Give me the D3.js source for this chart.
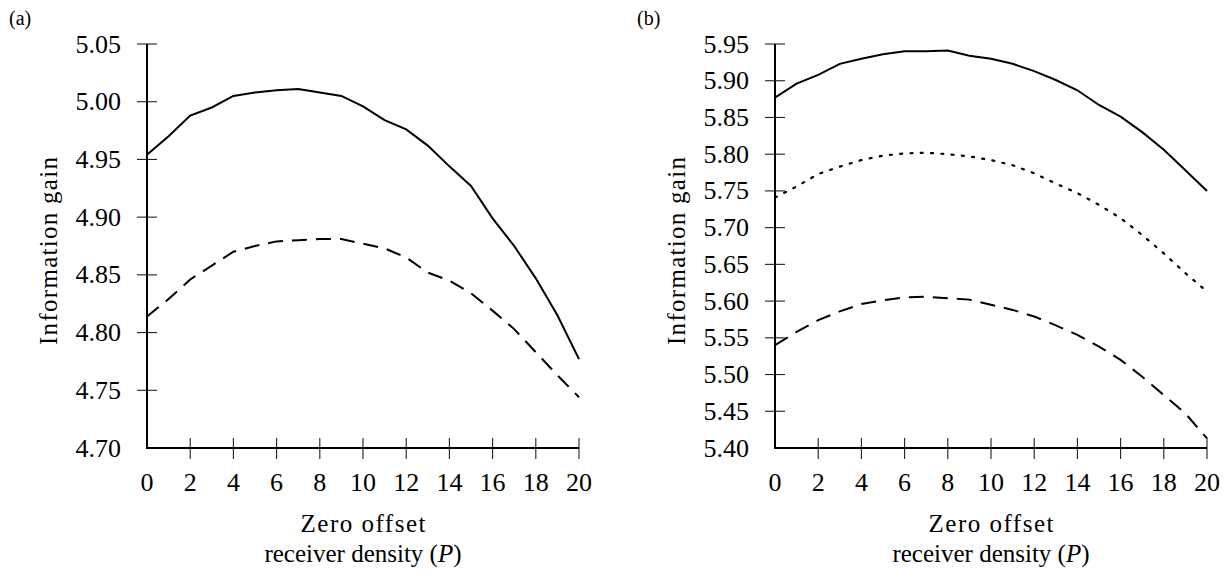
<!DOCTYPE html>
<html>
<head>
<meta charset="utf-8">
<script src="https://cdn.jsdelivr.net/npm/d3@7"></script>
<style>
  body { margin: 0; background: #fff; }
  svg { display: block; }
  text { font-family: "Liberation Serif", "Times New Roman", serif; fill: #000; }
</style>
</head>
<body>
<div id="chart"></div>
<script>
// x values shared by every series
const offsets = d3.range(0, 21);
const xTicks = [0, 2, 4, 6, 8, 10, 12, 14, 16, 18, 20];

// panel (a)
const aSolid = [4.954, 4.970, 4.988, 4.995, 5.005, 5.008, 5.010, 5.011, 5.008, 5.005, 4.996,
                4.984, 4.976, 4.962, 4.944, 4.927, 4.899, 4.875, 4.847, 4.815, 4.777];
const aDashed = [4.814, 4.829, 4.846, 4.858, 4.870, 4.875, 4.879, 4.880, 4.881, 4.881, 4.877,
                 4.873, 4.865, 4.852, 4.845, 4.834, 4.819, 4.803, 4.783, 4.763, 4.744];
const aYTicks = [4.70, 4.75, 4.80, 4.85, 4.90, 4.95, 5.00, 5.05];

// panel (b)
const bSolid = [5.877, 5.896, 5.908, 5.923, 5.930, 5.936, 5.940, 5.940, 5.941, 5.934, 5.930,
                5.923, 5.913, 5.901, 5.887, 5.867, 5.851, 5.830, 5.806, 5.778, 5.750];
const bDotted = [5.741, 5.756, 5.773, 5.783, 5.792, 5.798, 5.801, 5.802, 5.800, 5.797, 5.792,
                 5.785, 5.774, 5.760, 5.747, 5.731, 5.713, 5.690, 5.665, 5.638, 5.613];
const bDashed = [5.540, 5.558, 5.574, 5.586, 5.596, 5.601, 5.605, 5.606, 5.604, 5.602, 5.595,
                 5.588, 5.579, 5.567, 5.554, 5.538, 5.520, 5.497, 5.472, 5.447, 5.413];
const bYTicks = [5.40, 5.45, 5.50, 5.55, 5.60, 5.65, 5.70, 5.75, 5.80, 5.85, 5.90, 5.95];

const W = 1231, H = 580;
const svg = d3.select('#chart').append('svg')
    .attr('width', W)
    .attr('height', H);

const dashStyles = {
    solid: null,
    dashed: '15,9',
    dotted: '2,8.3'
};

function panel(opts) {
    const x = d3.scaleLinear().domain([0, 20]).range([opts.left, opts.left + 432]);
    const y = d3.scaleLinear().domain(opts.yDomain).range([448, 44]);
    const g = svg.append('g');

    // panel tag
    g.append('text')
        .attr('x', opts.tagX)
        .attr('y', 25)
        .style('font-size', '20px')
        .text(opts.tag);

    // y ticks (cross the axis), skip the bottom one
    const yt = opts.yTicks.slice(1);
    g.selectAll('line.ytick')
        .data(yt)
        .join('line')
        .classed('ytick', true)
        .attr('x1', x(0) - 10).attr('x2', x(0) + 10)
        .attr('y1', d => y(d)).attr('y2', d => y(d))
        .attr('stroke', '#222').attr('stroke-width', 1.1);

    g.selectAll('text.ylab')
        .data(opts.yTicks)
        .join('text')
        .classed('ylab', true)
        .attr('x', x(0) - 26)
        .attr('y', d => y(d))
        .attr('dy', '0.33em')
        .attr('text-anchor', 'end')
        .style('font-size', '26px')
        .text(d => d3.format('.2f')(d));

    // x ticks, skip 0
    g.selectAll('line.xtick')
        .data(xTicks.slice(1))
        .join('line')
        .classed('xtick', true)
        .attr('x1', d => x(d)).attr('x2', d => x(d))
        .attr('y1', 438).attr('y2', 459)
        .attr('stroke', '#222').attr('stroke-width', 1.1);

    g.selectAll('text.xlab')
        .data(xTicks)
        .join('text')
        .classed('xlab', true)
        .attr('x', d => x(d))
        .attr('y', 491)
        .attr('text-anchor', 'middle')
        .style('font-size', '26px')
        .text(d => d);

    // axis lines
    g.append('path')
        .attr('d', `M${x(0)},${y.range()[1]}V448H${x(20)}`)
        .attr('fill', 'none')
        .attr('stroke', '#000')
        .attr('stroke-width', 2);

    // data lines
    const line = d3.line()
        .x((d, i) => x(offsets[i]))
        .y(d => y(d));
    opts.series.forEach(s => {
        g.append('path')
            .datum(s.values)
            .attr('d', line)
            .attr('fill', 'none')
            .attr('stroke', '#000')
            .attr('stroke-width', s.style === 'dotted' ? 2.2 : 2)
            .attr('stroke-linecap', s.style === 'dotted' ? 'round' : 'butt')
            .attr('stroke-dasharray', dashStyles[s.style]);
    });

    // axis labels
    const cx = (x(0) + x(20)) / 2;
    g.append('text')
        .attr('x', cx).attr('y', 532)
        .attr('text-anchor', 'middle')
        .attr('textLength', 125).attr('lengthAdjust', 'spacing')
        .style('font-size', '25px')
        .text('Zero offset');
    const lab = g.append('text')
        .attr('x', cx).attr('y', 562)
        .attr('text-anchor', 'middle')
        .style('font-size', '25px');
    lab.append('tspan').text('receiver density (');
    lab.append('tspan').style('font-style', 'italic').text('P');
    lab.append('tspan').text(')');

    g.append('text')
        .attr('transform', `translate(${opts.left - 90},251) rotate(-90)`)
        .attr('text-anchor', 'middle')
        .attr('textLength', 188).attr('lengthAdjust', 'spacing')
        .style('font-size', '25px')
        .text('Information gain');
}

panel({
    left: 147, tag: '(a)', tagX: 9,
    yDomain: [4.70, 5.05], yTicks: aYTicks,
    series: [
        { values: aSolid, style: 'solid' },
        { values: aDashed, style: 'dashed' }
    ]
});

panel({
    left: 775, tag: '(b)', tagX: 637,
    yDomain: [5.40, 5.95], yTicks: bYTicks,
    series: [
        { values: bSolid, style: 'solid' },
        { values: bDotted, style: 'dotted' },
        { values: bDashed, style: 'dashed' }
    ]
});
</script>
</body>
</html>
